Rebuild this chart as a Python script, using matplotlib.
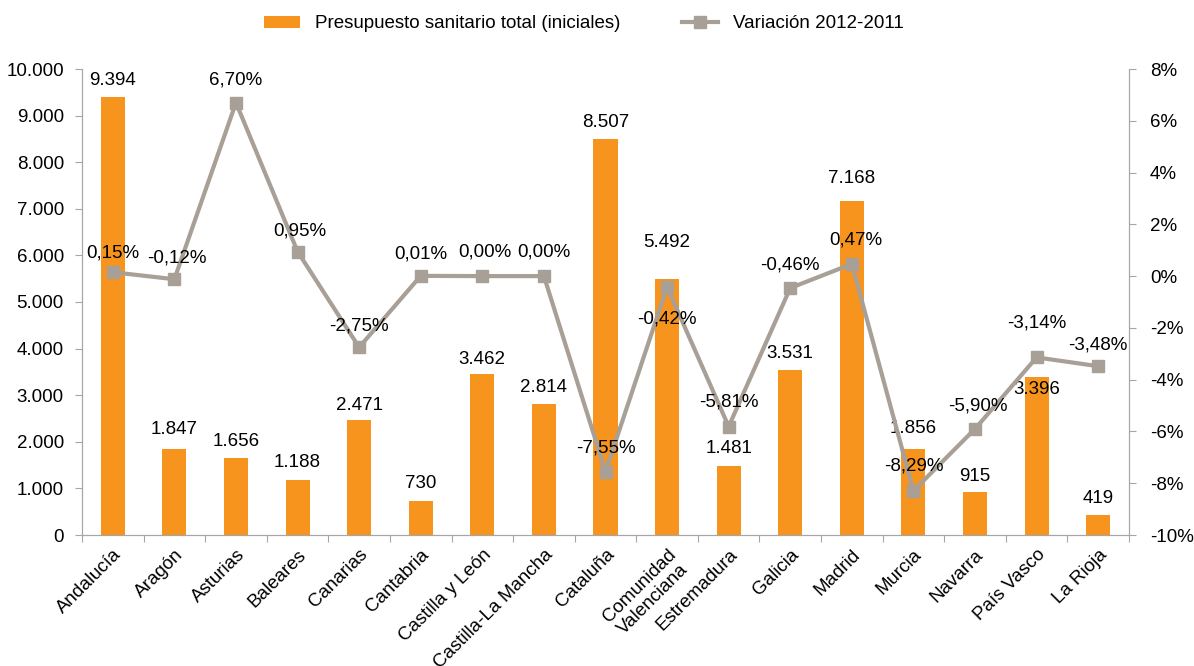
import numpy as np
import matplotlib.pyplot as plt
from matplotlib.lines import Line2D
from matplotlib.patches import Patch
from matplotlib.ticker import FuncFormatter

plt.rcParams['font.family'] = ['Liberation Sans', 'DejaVu Sans']

regiones = ["Andalucía", "Aragón", "Asturias", "Baleares", "Canarias", "Cantabria",
            "Castilla y León", "Castilla-La Mancha", "Cataluña", "Comunidad\nValenciana",
            "Estremadura", "Galicia", "Madrid", "Murcia", "Navarra", "País Vasco", "La Rioja"]
presupuesto = [9394, 1847, 1656, 1188, 2471, 730, 3462, 2814, 8507, 5492,
               1481, 3531, 7168, 1856, 915, 3396, 419]
variacion = [0.15, -0.12, 6.70, 0.95, -2.75, 0.01, 0.00, 0.00, -7.55, -0.42,
             -5.81, -0.46, 0.47, -8.29, -5.90, -3.14, -3.48]

# label offsets in pixels (vertical, center of text above mark)
bar_dy = [17, 19, 16, 17, 14, 17, 14, 16, 16, 37, 17, 17, 22, 20, 16, -13, 17]
pct_dy = [19, 21, 23, 21, 21, 22, 24, 24, 24, -32, 25, 23, 24, 25, 23, 34, 21]
pct_dx = [0, 2, 0, 2, 0, 0, 3, 0, 0, 0, 0, 0, 4, 0, 3, 0, 0]

ORANGE = '#F7941E'
GREY = '#A89F97'
AXIS = '#A6A6A6'
PX = 72 / 100  # pixel -> point

fig = plt.figure(figsize=(11.94, 6.66), dpi=100)
ax = fig.add_axes([82 / 1194, 1 - 535 / 666, (1129 - 82) / 1194, (535 - 69) / 666])
ax2 = ax.twinx()

x = np.arange(len(regiones))
ax.bar(x, presupuesto, width=0.39, color=ORANGE, zorder=2)
ax.set_xlim(-0.5, len(regiones) - 0.5)
ax.set_ylim(0, 10000)
ax.set_yticks(np.arange(0, 10001, 1000))
ax.yaxis.set_major_formatter(FuncFormatter(lambda v, p: f"{int(v):,}".replace(",", ".")))

for xi, v, dy in zip(x, presupuesto, bar_dy):
    ax.annotate(f"{v:,}".replace(",", "."), (xi, v), xytext=(0, dy * PX),
                textcoords='offset points', ha='center', va='center', fontsize=13.5)

ax2.plot(x, variacion, color=GREY, lw=3, marker='s', markersize=9, zorder=3)
ax2.set_ylim(-10, 8)
ax2.set_yticks(np.arange(-10, 9, 2))
ax2.yaxis.set_major_formatter(FuncFormatter(lambda v, p: f"{int(v)}%"))

for xi, v, dy, dx in zip(x, variacion, pct_dy, pct_dx):
    ax2.annotate(f"{v:.2f}%".replace(".", ","), (xi, v), xytext=(dx * PX, dy * PX),
                 textcoords='offset points', ha='center', va='center', fontsize=13.5)

# category ticks between bars
ax.set_xticks(np.arange(-0.5, len(regiones), 1), minor=False)
ax.set_xticklabels([])
ax.set_xticks(x, minor=True)
ax.set_xticklabels(regiones, minor=True, rotation=45, ha='right', va='top',
                   rotation_mode='anchor', multialignment='center', fontsize=13.5)
ax.tick_params(axis='x', which='minor', length=0, pad=8)
ax.tick_params(axis='x', which='major', length=5, color=AXIS)

for a in (ax, ax2):
    a.spines['top'].set_visible(False)
    for s in ('left', 'right', 'bottom'):
        a.spines[s].set_color(AXIS)
ax.tick_params(axis='y', length=5, color=AXIS, labelsize=13.5, pad=8)
ax2.tick_params(axis='y', length=5, color=AXIS, labelsize=13.5, pad=10)
ax.set_zorder(1)
ax.patch.set_visible(False)
ax2.set_zorder(2)

handles = [Patch(facecolor=ORANGE, edgecolor='none'),
           Line2D([], [], color=GREY, lw=3, marker='s', markersize=8)]
fig.legend(handles, ["Presupuesto sanitario total (iniciales)", "Variación 2012-2011"],
           loc='center', bbox_to_anchor=(0.489, 1 - 24 / 666), ncol=2, frameon=False,
           fontsize=13.5, handlelength=1.9, handleheight=0.55, columnspacing=3.3,
           handletextpad=0.8)

fig.savefig("out.png", dpi=100)
